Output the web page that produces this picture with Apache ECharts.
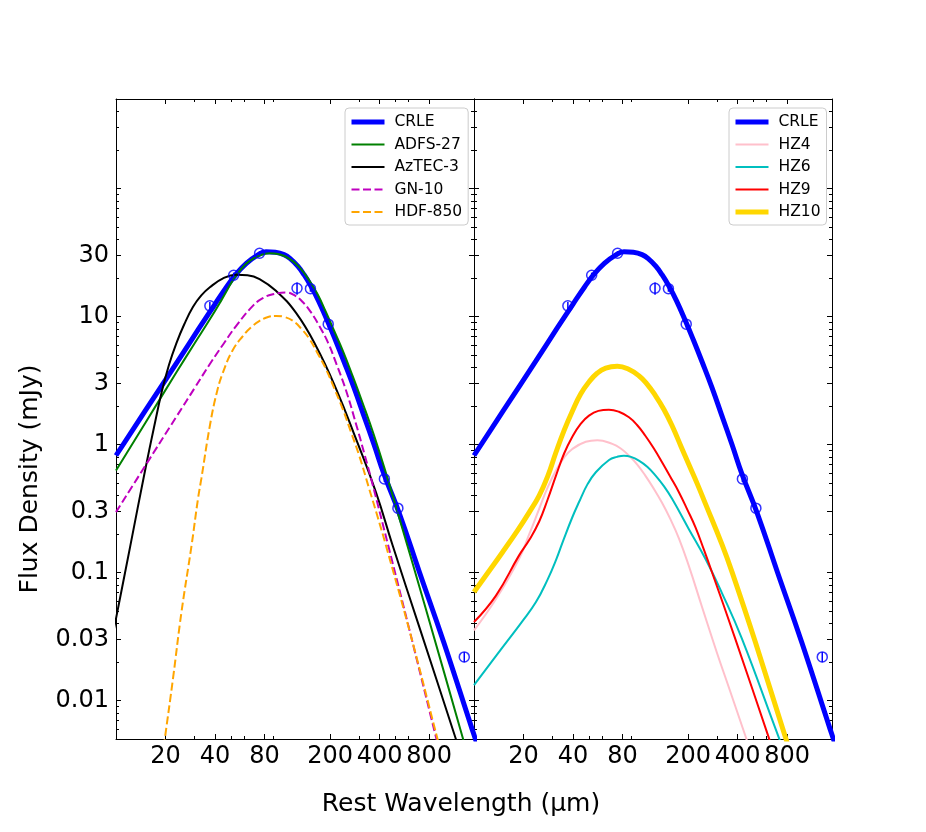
<!DOCTYPE html>
<html><head><meta charset="utf-8">
<script src="https://cdn.jsdelivr.net/npm/echarts@6/dist/echarts.min.js"></script>
<style>html,body{margin:0;padding:0;background:#fff}#c{width:926px;height:832px}</style>
</head><body><div id="c"></div>
<script>
// ---- axis ranges and ticks ----
const X_RANGE = [10, 1500];
const Y_RANGE = [0.005, 500];
const xTickVals = [20, 40, 80, 200, 400, 800];
const xMinorVals = [30, 50, 60, 90, 300, 500, 600];
const yTickVals = [0.01, 0.03, 0.1, 0.3, 1, 3, 10, 30];
const yMajorExtra = [100];
const yMinorVals = [0.006,0.007,0.008,0.009,0.02,0.04,0.05,0.06,0.07,0.08,0.09,
  0.2,0.4,0.5,0.6,0.7,0.8,0.9,2,4,5,6,7,8,9,20,40,50,60,70,80,90,200,300,400];

// ---- curves: [rest wavelength (um), flux density (mJy)] ----
const crle = [[10,0.82],[15,1.82],[23.8,4.5],[32,8.1],[40,12.5],[47,17.0],[54,21.6],[62,26.0],[71,29.6],
  [81.6,32.0],[93,31.7],[105,30.4],[115,28.2],[127,24.8],[139,21.2],[153,17.3],[170,13.3],[193,9.2],
  [215,6.6],[243,4.45],[280,2.77],[321,1.68],[370,1.0],[425,0.59],[527,0.29],[700,0.1],[982,0.0285],
  [1459,0.006],[1600,0.0042]];
const adfs27 = [[10,0.625],[15,1.46],[23.3,3.66],[30,6.15],[37.2,9.5],[44,13.6],[51.9,19.6],[58,23.7],
  [64.9,27.2],[75,30.0],[85.7,31.2],[98,30.6],[113,28.3],[130,24.3],[150,19.0],[168,14.9],[189,10.8],
  [212,7.7],[239,5.4],[275,3.4],[316,2.1],[370,1.18],[437,0.6],[517,0.29],[764,0.052],[1285,0.00505],[1400,0.0034]];
const aztec3 = [[9.5,0.031],[10,0.0436],[12.2,0.16],[15,0.62],[17,1.35],[19,2.6],[21,4.2],[23.3,6.2],
  [26,8.7],[29.4,11.9],[33,14.6],[37.2,16.9],[45,19.9],[53.8,21.2],[63,21.0],[74.6,19.6],[94.2,15.8],
  [124,10.7],[164,5.91],[218,2.71],[288,1.10],[380,0.424],[480,0.163],[703,0.0364],[1161,0.00505],[1300,0.0032]];
const gn10 = [[10,0.296],[14.6,0.64],[23.3,1.65],[30,2.75],[37.2,4.25],[45,6.1],[53.8,8.45],[67.9,12.1],
  [78,13.9],[89.8,14.9],[108,15.4],[122,14.6],[137,12.9],[153,10.8],[172,8.45],[195,6.2],[218,4.3],
  [250,2.65],[288,1.44],[323,0.85],[361,0.5],[450,0.165],[600,0.038],[880,0.0052],[940,0.0037]];
const hdf850 = [[19.5,0.0043],[19.8,0.005],[22.2,0.0148],[25.0,0.049],[28.8,0.163],[31.5,0.376],[33.0,0.538],
  [37.2,1.40],[41,2.55],[44.7,3.66],[51,5.4],[59.2,7.06],[66,8.2],[74.6,9.24],[84,9.9],[94.2,10.1],
  [106,9.9],[119,9.24],[134,8.0],[150,6.66],[169,5.1],[189,3.88],[212,2.75],[239,1.89],[268,1.25],
  [301,0.818],[346,0.45],[390,0.27],[437,0.163],[605,0.036],[900,0.005],[960,0.0036]];
const hz4 = [[10,0.0353],[13.6,0.062],[18.8,0.128],[21.7,0.2],[24.9,0.314],[28,0.46],[31.5,0.625],
  [35.3,0.79],[39.6,0.922],[47.8,1.05],[56.2,1.08],[69.3,1.01],[78,0.93],[87.5,0.818],[98,0.7],
  [110,0.571],[124,0.45],[139,0.35],[156,0.262],[176,0.185],[202,0.113],[243,0.054],[300,0.0235],
  [353,0.0128],[446,0.0053],[480,0.004]];
const hz6 = [[10,0.0132],[14.9,0.026],[19.5,0.041],[23.8,0.0587],[28,0.088],[31.5,0.125],[35,0.18],
  [39.6,0.27],[43.5,0.355],[49,0.49],[55,0.607],[66.2,0.757],[74,0.8],[81.6,0.818],[90,0.8],
  [100.5,0.748],[113,0.67],[127,0.571],[143,0.47],[160,0.376],[202,0.219],[255,0.128],[320,0.07],
  [425,0.0304],[710,0.0052],[760,0.0042]];
const hz9 = [[10,0.041],[13.6,0.066],[18.8,0.136],[21.7,0.18],[24.9,0.25],[28,0.37],[31.5,0.571],
  [35.3,0.85],[39.6,1.15],[44.5,1.45],[50,1.68],[57,1.83],[66.1,1.87],[76,1.8],[87.5,1.63],[98,1.42],
  [110,1.17],[124,0.93],[139,0.726],[156,0.56],[176,0.424],[198,0.31],[222,0.225],[250,0.15],[280,0.1],
  [387,0.0304],[617,0.0052],[660,0.004]];
const hz10 = [[10,0.0703],[14.9,0.144],[18.5,0.215],[21.7,0.296],[24.9,0.399],[28,0.56],[31.5,0.869],
  [35.3,1.29],[39.6,1.82],[44.5,2.48],[50,3.08],[56,3.6],[63.2,3.95],[74.3,4.08],[86,3.9],[100.5,3.44],
  [113,2.95],[127,2.40],[143,1.87],[160,1.40],[181,0.97],[202,0.70],[228,0.49],[255,0.345],[322,0.165],
  [370,0.101],[513,0.0286],[780,0.0052],[830,0.0041]];

// ---- CRLE photometry: wavelength, flux, error ----
const obsWave = [37.2, 51.9, 74.6, 126, 152, 195, 428, 517, 1309];
const obsFlux = [12.1, 21.0, 31.2, 16.6, 16.5, 8.71, 0.538, 0.318, 0.0219];
const obsErr  = [0.9, 1.0, 1.2, 1.8, 0.9, 0.5, 0.03, 0.02, 0.002];

const leftNames = ['CRLE','ADFS-27','AzTEC-3','GN-10','HDF-850'];
const rightNames = ['CRLE','HZ4','HZ6','HZ9','HZ10'];

// ---- build ----
const L = Math.log10;
const FONT = 'DejaVu Sans';
const TICK_FS = 24;
const tr = arr => arr.map(p => [L(p[0]), L(p[1])]);

function xAxesFor(g) {
  const common = {gridIndex:g, type:'value', min:L(X_RANGE[0]), max:L(X_RANGE[1]), splitLine:{show:false}};
  const line = {show:true, onZero:false, lineStyle:{color:'#000', width:1}};
  const noLine = {show:false, onZero:false};
  const tk = (vals, len) => ({show:true, inside:true, length:len, customValues:vals.map(L), lineStyle:{color:'#000', width:1}});
  return [
    Object.assign({}, common, {position:'bottom', axisLine:line, axisTick:tk(xTickVals,5),
      axisLabel:{show:true, customValues:xTickVals.map(L), formatter:v => String(Math.round(Math.pow(10, v))),
        fontSize:TICK_FS, fontFamily:FONT, color:'#000', margin:6, hideOverlap:false}}),
    Object.assign({}, common, {position:'bottom', axisLine:noLine, axisTick:tk(xMinorVals,3), axisLabel:{show:false}}),
    Object.assign({}, common, {position:'top', axisLine:line, axisTick:tk(xTickVals,5), axisLabel:{show:false}}),
    Object.assign({}, common, {position:'top', axisLine:noLine, axisTick:tk(xMinorVals,3), axisLabel:{show:false}})
  ];
}
function yAxesFor(g, labels) {
  const common = {gridIndex:g, type:'value', min:L(Y_RANGE[0]), max:L(Y_RANGE[1]), splitLine:{show:false}};
  const line = {show:true, onZero:false, lineStyle:{color:'#000', width:1}};
  const noLine = {show:false, onZero:false};
  const majors = yTickVals.concat(yMajorExtra);
  const tk = (vals, len) => ({show:true, inside:true, length:len, customValues:vals.map(L), lineStyle:{color:'#000', width:1}});
  return [
    Object.assign({}, common, {position:'left', axisLine:line, axisTick:tk(majors,5),
      axisLabel: labels ? {show:true, customValues:yTickVals.map(L),
        formatter:v => String(+Math.pow(10, v).toPrecision(2)), fontSize:TICK_FS, fontFamily:FONT, color:'#000', margin:7} : {show:false}}),
    Object.assign({}, common, {position:'left', axisLine:noLine, axisTick:tk(yMinorVals,3), axisLabel:{show:false}}),
    Object.assign({}, common, {position:'right', axisLine:line, axisTick:tk(majors,5), axisLabel:{show:false}}),
    Object.assign({}, common, {position:'right', axisLine:noLine, axisTick:tk(yMinorVals,3), axisLabel:{show:false}})
  ];
}

function lineSeries(name, data, color, width, dash, axis) {
  return {type:'line', name, data:tr(data), xAxisIndex:axis, yAxisIndex:axis, smooth:0.45,
    symbol:'none', showSymbol:false, clip:true, silent:true,
    lineStyle:{color, width, type: dash ? [8, 3.5] : 'solid'}, itemStyle:{color}};
}
function obsSeries(axis) {
  const errData = obsWave.map((w, i) => [L(w), L(obsFlux[i] - obsErr[i]), L(obsFlux[i] + obsErr[i])]);
  const ptData = obsWave.map((w, i) => [L(w), L(obsFlux[i])]);
  return [
    {type:'custom', xAxisIndex:axis, yAxisIndex:axis, silent:true, data:errData, encode:{x:0, y:[1,2]}, z:5,
      renderItem:(params, api) => {
        const p1 = api.coord([api.value(0), api.value(1)]);
        const p2 = api.coord([api.value(0), api.value(2)]);
        return {type:'line', shape:{x1:p1[0], y1:p1[1], x2:p2[0], y2:p2[1]}, style:{stroke:'#0000ff', lineWidth:1.5}};
      }},
    {type:'scatter', xAxisIndex:axis, yAxisIndex:axis, silent:true, data:ptData, symbol:'circle', symbolSize:10, z:6,
      itemStyle:{color:'rgba(0,0,0,0)', borderColor:'#0000ff', borderWidth:1.5}}
  ];
}

const legendCommon = {orient:'vertical', itemWidth:33, itemHeight:14, itemGap:6.5, selectedMode:false,
  textStyle:{fontSize:15.5, fontFamily:FONT, color:'#000', lineHeight:15, padding:[0,0,0,5]},
  itemStyle:{opacity:0}, lineStyle:{width:'inherit'},
  backgroundColor:'rgba(255,255,255,0.85)', borderColor:'#cccccc', borderWidth:1, borderRadius:4,
  padding:[6,6,5,4]};

const option = {
  animation:false,
  backgroundColor:'#fff',
  grid:[
    {left:116, top:99, width:358, height:640, outerBoundsMode:'none'},
    {left:474, top:99, width:358, height:640, outerBoundsMode:'none'}
  ],
  xAxis: xAxesFor(0).concat(xAxesFor(1)),
  yAxis: yAxesFor(0, true).concat(yAxesFor(1, false)),
  legend:[
    Object.assign({}, legendCommon, {left:345, top:108, data:leftNames}),
    Object.assign({}, legendCommon, {left:729, top:108, data:rightNames})
  ],
  graphic:[
    {type:'text', x:461, y:804, silent:true,
      style:{text:'Rest Wavelength (μm)', font:'25px "DejaVu Sans"', fill:'#000', textAlign:'center', textVerticalAlign:'middle', align:'center', verticalAlign:'middle'}},
    {type:'text', x:30, y:479, rotation:Math.PI/2, silent:true,
      style:{text:'Flux Density (mJy)', font:'25px "DejaVu Sans"', fill:'#000', textAlign:'center', textVerticalAlign:'middle', align:'center', verticalAlign:'middle'}}
  ],
  series:[
    lineSeries('CRLE', crle, '#0000ff', 5, false, 0),
    lineSeries('ADFS-27', adfs27, '#008000', 2, false, 0),
    lineSeries('AzTEC-3', aztec3, '#000000', 2, false, 0),
    lineSeries('GN-10', gn10, '#bf00bf', 2, true, 0),
    lineSeries('HDF-850', hdf850, '#ffa500', 2, true, 0),
    ...obsSeries(0),
    lineSeries('CRLE', crle, '#0000ff', 5, false, 4),
    lineSeries('HZ4', hz4, '#ffc0cb', 2, false, 4),
    lineSeries('HZ6', hz6, '#00bfbf', 2, false, 4),
    lineSeries('HZ9', hz9, '#ff0000', 2, false, 4),
    lineSeries('HZ10', hz10, '#ffd700', 5, false, 4),
    ...obsSeries(4)
  ]
};
const chart = echarts.init(document.getElementById('c'), null, {renderer:'canvas'});
chart.setOption(option);
</script></body></html>
